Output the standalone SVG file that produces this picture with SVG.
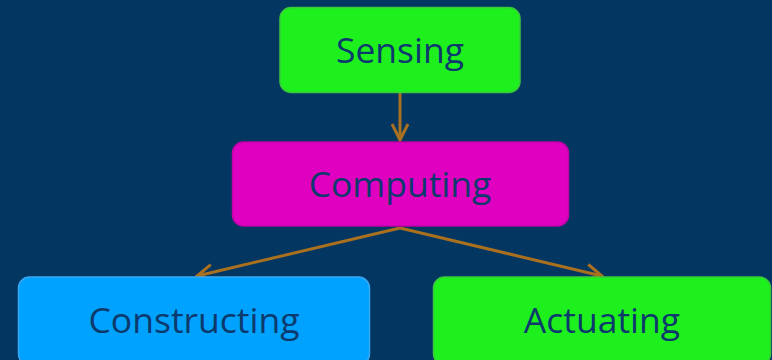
<svg xmlns="http://www.w3.org/2000/svg" width="772" height="360" viewBox="0 0 772 360">
<defs>
<style>
.box{stroke-width:1.5}
.lbl{font-family:"Open Sans","Noto Sans","DejaVu Sans",sans-serif;font-size:35.5px;fill:#0d3a6c;text-anchor:middle}
.edge{stroke:#a8701f;stroke-width:3;fill:none}
</style>
<marker id="ah" viewBox="0 0 20 20" refX="18" refY="10" markerWidth="20" markerHeight="20" markerUnits="userSpaceOnUse" orient="auto">
<path d="M2,2 L18,10 L2,18" fill="none" stroke="#a8701f" stroke-width="3"/>
</marker>
</defs>
<rect width="772" height="360" fill="#033660"/>
<g id="connectors">
<line class="edge" x1="400" y1="93" x2="400" y2="140" marker-end="url(#ah)"/>
<line class="edge" x1="400" y1="228" x2="197" y2="276" marker-end="url(#ah)"/>
<line class="edge" x1="400" y1="228" x2="602" y2="276" marker-end="url(#ah)"/>
</g>
<g id="sensing">
<rect class="box" x="280" y="7.5" width="240" height="85" rx="11" fill="#1ef01e" stroke="#3cc83c"/>
<text class="lbl" x="400" y="63">Sensing</text>
</g>
<g id="computing">
<rect class="box" x="232.5" y="142" width="336" height="84" rx="11" fill="#e000c0" stroke="#c000a8"/>
<text class="lbl" x="400" y="197">Computing</text>
</g>
<g id="constructing">
<rect class="box" x="18.5" y="277" width="351" height="88" rx="11" fill="#00a2ff" stroke="#3aa8f0"/>
<text class="lbl" x="194" y="333">Constructing</text>
</g>
<g id="actuating">
<rect class="box" x="433.5" y="277" width="337" height="88" rx="11" fill="#1ef01e" stroke="#3cc83c"/>
<text class="lbl" x="602" y="333">Actuating</text>
</g>
</svg>
